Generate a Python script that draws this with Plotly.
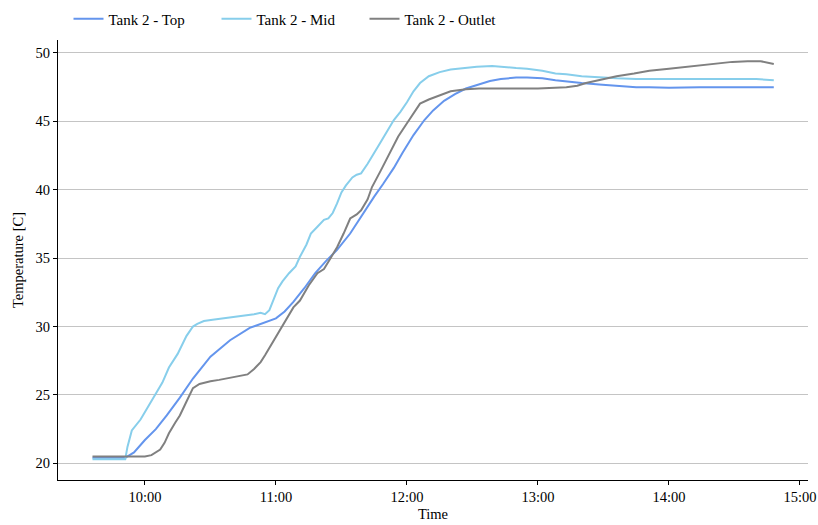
import plotly.graph_objects as go
import pandas as pd

top_times = ["09:36","09:45","09:51","09:55","10:00","10:05","10:10","10:16","10:22","10:30","10:39","10:48","10:53","10:57","11:00","11:04","11:08","11:13","11:18","11:23","11:28","11:34","11:40","11:45","11:49","11:54","11:58","12:03","12:08","12:12","12:17","12:22","12:27","12:33","12:38","12:43","12:50","12:55","13:02","13:08","13:13","13:20","13:28","13:36","13:45","13:51","14:00","14:14","14:30","14:40","14:48"]
top_vals = [20.4,20.4,20.4,20.8,21.7,22.5,23.5,24.8,26.2,27.8,29.0,29.9,30.2,30.45,30.6,31.1,31.8,32.8,33.9,34.8,35.6,36.8,38.3,39.5,40.4,41.6,42.7,44.0,45.1,45.8,46.5,47.0,47.4,47.7,47.95,48.1,48.2,48.2,48.15,48.0,47.9,47.8,47.7,47.6,47.5,47.5,47.45,47.5,47.5,47.5,47.5]

mid_times = ["09:36","09:45","09:51","09:52","09:54","09:58","10:01","10:05","10:08","10:11","10:15","10:19","10:22","10:24","10:27","10:31","10:36","10:41","10:47","10:50","10:53","10:55","10:57","10:59","11:01","11:03","11:06","11:09","11:11","11:14","11:16","11:19","11:22","11:24","11:26","11:28","11:30","11:32","11:35","11:37","11:39","11:42","11:44","11:46","11:48","11:51","11:54","11:57","12:00","12:03","12:06","12:10","12:15","12:20","12:25","12:32","12:39","12:45","12:50","12:55","13:02","13:08","13:13","13:20","13:28","13:36","13:45","13:51","14:00","14:10","14:20","14:30","14:40","14:48"]
mid_vals = [20.3,20.3,20.3,21.2,22.4,23.2,24.0,25.0,25.9,27.0,28.0,29.3,30.0,30.2,30.4,30.5,30.6,30.7,30.8,30.9,31.0,30.9,31.2,32.0,32.8,33.3,33.9,34.4,35.1,36.0,36.8,37.3,37.8,37.9,38.3,39.0,39.8,40.3,40.9,41.1,41.2,41.9,42.4,43.0,43.5,44.3,45.1,45.7,46.4,47.2,47.8,48.3,48.6,48.8,48.9,49.0,49.05,48.95,48.9,48.85,48.7,48.5,48.45,48.3,48.2,48.15,48.1,48.1,48.1,48.1,48.1,48.15,48.1,48.0]

out_times = ["09:36","09:45","09:55","10:00","10:03","10:07","10:09","10:11","10:14","10:16","10:19","10:22","10:25","10:30","10:34","10:40","10:47","10:50","10:53","10:55","10:58","11:00","11:03","11:08","11:11","11:15","11:19","11:22","11:25","11:28","11:31","11:34","11:37","11:39","11:42","11:44","11:48","11:52","11:56","12:01","12:06","12:10","12:15","12:20","12:27","12:33","12:45","13:00","13:13","13:18","13:22","13:30","13:36","13:44","13:51","14:00","14:14","14:22","14:29","14:36","14:42","14:48"]
out_vals = [20.5,20.5,20.5,20.5,20.6,21.0,21.5,22.2,23.0,23.5,24.5,25.5,25.8,26.0,26.1,26.3,26.5,26.9,27.4,27.9,28.7,29.3,30.0,31.4,31.9,33.0,33.9,34.2,35.0,35.8,36.8,37.9,38.2,38.5,39.3,40.2,41.4,42.7,43.9,45.1,46.3,46.6,46.9,47.2,47.35,47.4,47.4,47.4,47.5,47.6,47.8,48.1,48.3,48.5,48.7,48.85,49.1,49.2,49.35,49.4,49.4,49.2]

x_ticks = ["10:00","11:00","12:00","13:00","14:00","15:00"]
y_ticks = [20, 25, 30, 35, 40, 45, 50]

def to_dt(ts):
    return pd.to_datetime(["2021-01-01 " + t for t in ts])

FONT = "Liberation Serif"

fig = go.Figure()
fig.add_trace(go.Scatter(x=to_dt(top_times), y=top_vals, mode="lines", name="Tank 2 - Top",
                         line=dict(color="#6495ED", width=2)))
fig.add_trace(go.Scatter(x=to_dt(mid_times), y=mid_vals, mode="lines", name="Tank 2 - Mid",
                         line=dict(color="#87CEEB", width=2)))
fig.add_trace(go.Scatter(x=to_dt(out_times), y=out_vals, mode="lines", name="Tank 2 - Outlet",
                         line=dict(color="#808080", width=2)))

fig.update_layout(
    width=818, height=525,
    margin=dict(l=58, r=10, t=40, b=45, autoexpand=False),
    paper_bgcolor="white", plot_bgcolor="white",
    font=dict(family=FONT, size=14.5, color="black"),
    legend=dict(orientation="h", x=0.014, xanchor="left", y=1.085, yanchor="top",
                entrywidth=103, entrywidthmode="pixels",
                font=dict(family=FONT, size=15), bgcolor="rgba(0,0,0,0)"),
    xaxis=dict(
        title=dict(text="Time", standoff=4, font=dict(family=FONT, size=14.5)),
        type="date", automargin=False,
        range=["2021-01-01 09:20:12", "2021-01-01 15:03:40"],
        tickformat="%H:%M",
        tickvals=to_dt(x_ticks),
        tickfont=dict(family=FONT, size=14.5),
        showgrid=False, showline=True, linecolor="black", linewidth=1,
        ticks="outside", ticklen=4, tickcolor="black", zeroline=False,
    ),
    yaxis=dict(
        title=dict(text="Temperature [C]", standoff=8, font=dict(family=FONT, size=14.5)),
        automargin=False,
        range=[18.78, 50.95],
        tickvals=y_ticks,
        tickfont=dict(family=FONT, size=14.5),
        showgrid=True, gridcolor="#c4c4c4", gridwidth=1,
        showline=True, linecolor="black", linewidth=1,
        ticks="outside", ticklen=4, tickcolor="black", zeroline=False,
    ),
)

fig.write_html("out.html")
